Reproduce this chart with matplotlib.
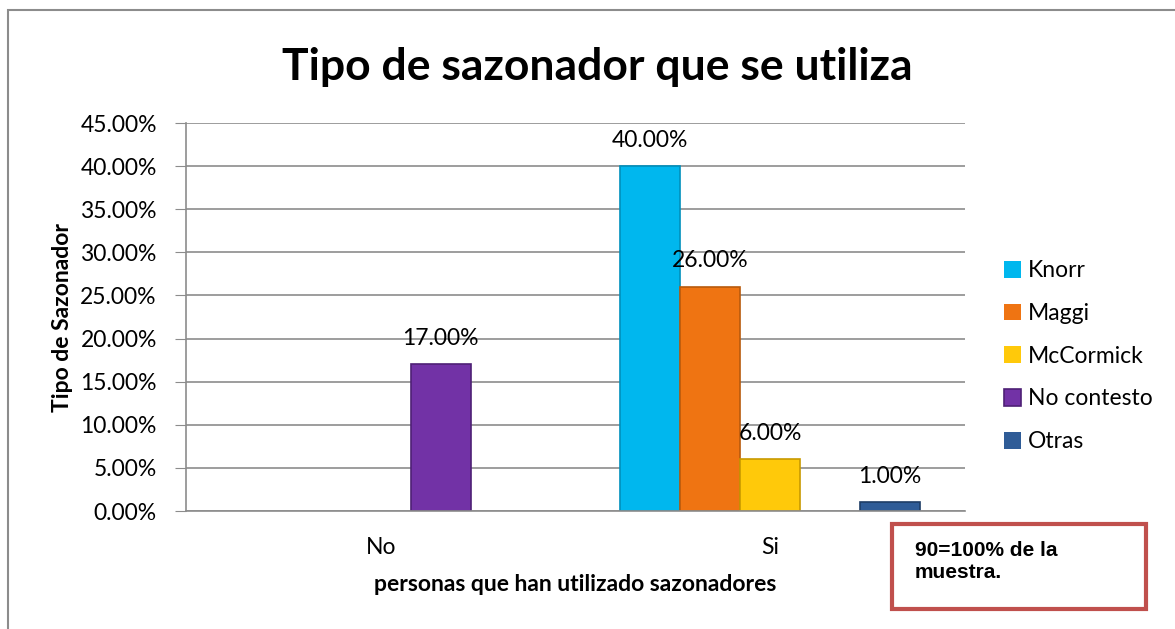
import matplotlib
matplotlib.use("Agg")
import matplotlib.pyplot as plt
import numpy as np
from matplotlib.patches import Rectangle, FancyBboxPatch

categories = ["No", "Si"]
series = ["Knorr", "Maggi", "McCormick", "No contesto", "Otras"]
knorr = [0.0, 40.0]
maggi = [0.0, 26.0]
mccormick = [0.0, 6.0]
no_contesto = [17.0, 0.0]
otras = [0.0, 1.0]
values = [knorr, maggi, mccormick, no_contesto, otras]
colors = ["#00B7EE", "#EF7412", "#FFC90A", "#7232A6", "#2F5C97"]
edges = ["#0090BC", "#B85A0C", "#C89A00", "#4E2075", "#1E3D66"]
yticks = [0, 5, 10, 15, 20, 25, 30, 35, 40, 45]

W, H = 1175, 629
fig = plt.figure(figsize=(W / 100, H / 100), dpi=100)
font = "Lato"
fs = 16.5

# outer chart border
fig.add_artist(Rectangle((8 / W, -0.01), 1.2, 1 - 10 / H + 0.01, transform=fig.transFigure,
                         fill=False, edgecolor="#8C8C8C", linewidth=1.5))

ax = fig.add_axes([186 / W, (H - 511) / H, 779 / W, 388 / H])
x = np.arange(len(categories))
bw = 0.154
for i, (name, vals) in enumerate(zip(series, values)):
    pos = x + (i - 2) * bw
    ec = [edges[i] if v > 0 else "none" for v in vals]
    bars = ax.bar(pos, vals, width=bw, color=colors[i], edgecolor=ec, linewidth=1.2, label=name)
    for b, v in zip(bars, vals):
        if v > 0:
            ax.text(b.get_x() + b.get_width() / 2, v + 3.0, f"{v:.2f}%", ha="center", va="center",
                    fontsize=fs, family=font, color="black")

ax.set_xlim(-0.5, 1.5)
ax.set_ylim(0, 45)
ax.set_yticks(yticks)
ax.set_yticklabels([f"{t:.2f}%" for t in yticks], fontsize=fs, family=font)
ax.set_xticks(x)
ax.set_xticklabels(categories, fontsize=fs, family=font)
ax.tick_params(axis="x", length=0, pad=19)
ax.tick_params(axis="y", length=8, color="#8C8C8C", pad=13)
ax.yaxis.grid(True, color="#8C8C8C", linewidth=1.2)
ax.set_axisbelow(True)
for s in ["top", "right"]:
    ax.spines[s].set_visible(False)
ax.spines["left"].set_color("#8C8C8C")
ax.spines["bottom"].set_color("#8C8C8C")
ax.spines["left"].set_linewidth(1.2)
ax.spines["bottom"].set_linewidth(1.2)

ax.set_xlabel("personas que han utilizado sazonadores", fontsize=fs, family=font,
              fontweight="bold", labelpad=11)
ax.set_ylabel("Tipo de Sazonador", fontsize=fs, family=font, fontweight="bold", labelpad=5)

fig.text(597 / W, 1 - 67 / H, "Tipo de sazonador que se utiliza", ha="center", va="center",
         fontsize=32, fontweight="bold", family=font)

leg = fig.legend(loc="upper left", bbox_to_anchor=(995 / W, 1 - 251 / H), frameon=False,
                 prop={"family": font, "size": fs}, handlelength=0.75, handleheight=0.75,
                 handletextpad=0.3, labelspacing=0.95, borderaxespad=0)

# note box
fig.add_artist(FancyBboxPatch((892 / W, 1 - 609 / H), 254 / W, 85 / H, transform=fig.transFigure,
                              boxstyle="square,pad=0", fill=True, facecolor="white",
                              edgecolor="#C0504D", linewidth=3))
fig.text(915 / W, 1 - 562 / H, "90=100% de la\nmuestra.", ha="left", va="center",
         fontsize=15, fontweight="bold", family="Liberation Sans", linespacing=1.2)

fig.savefig("out.png", dpi=100)
